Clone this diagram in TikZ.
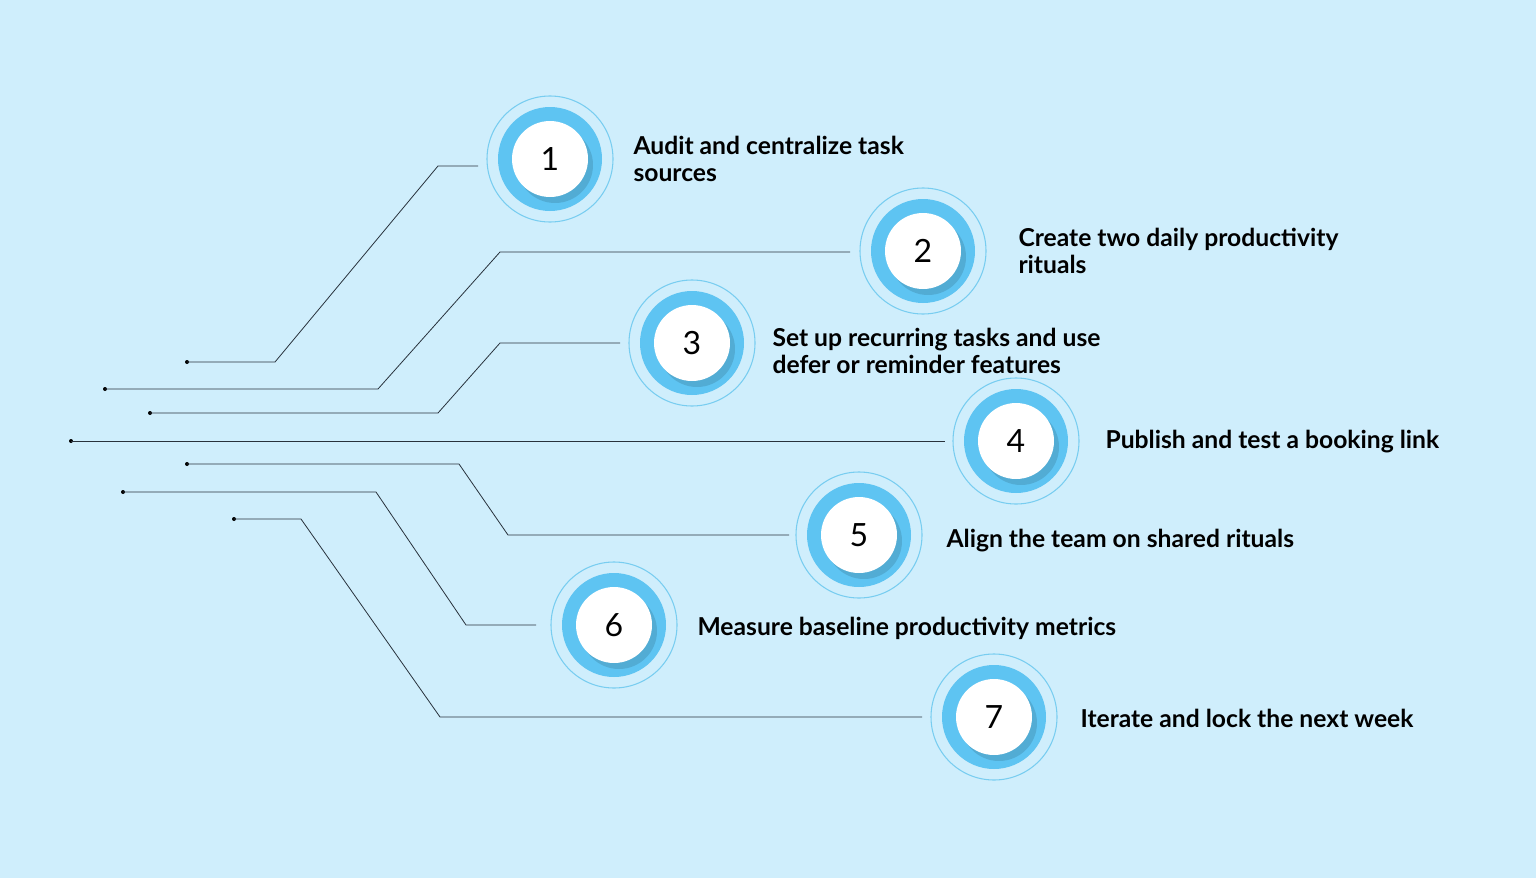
\documentclass[tikz,border=0pt]{standalone}
\usepackage{fontspec}
\setmainfont{Lato}
\usetikzlibrary{positioning,calc}
\definecolor{bgblue}{RGB}{207,238,252}
\definecolor{ringblue}{RGB}{94,196,242}
\definecolor{thinring}{RGB}{120,205,240}
\definecolor{wire}{RGB}{40,50,60}
\tikzset{every picture/.style={line width=0.75pt}}
\tikzset{
  outer/.style={circle, draw=thinring, line width=0.8pt, fill=bgblue, minimum size=94.5pt, inner sep=0pt},
  disk/.style={circle, fill=ringblue, minimum size=78pt, inner sep=0pt},
  face/.style={circle, fill=white, minimum size=57pt, inner sep=0pt, font=\fontsize{24}{28}\selectfont},
  label/.style={anchor=west, align=left, inner sep=0pt, font=\fontsize{18.5}{20}\selectfont\bfseries},
  wire/.style={draw=wire, line width=0.6pt},
  dot/.style={circle, fill=black, inner sep=0pt, minimum size=3pt}
}
\newcommand{\step}[6]{%
  \node[outer] (o#1) at (#2,#3) {};
  \node[disk] at (o#1) {};
  \fill[black, opacity=0.12] ($(o#1)+(5,6)$) circle (38);
  \node[face] (c#1) at (o#1) {#1};
  \node[label] (t#1) at ($(o#1)+(#4,#5)$) {#6};
}
\begin{document}
\begin{tikzpicture}[x=0.75pt,y=0.75pt,yscale=-1,xscale=1]
\fill[bgblue] (0,0) rectangle (1536,878);
\useasboundingbox (0,0) rectangle (1536,878);

% step circles
\step{1}{550}{159}{83}{0}{Audit and centralize task\\sources}
\step{2}{923}{251}{95}{0}{Create two daily productivity\\rituals}
\step{3}{692}{343}{80}{8}{Set up recurring tasks and use\\defer or reminder features}
\step{4}{1016}{441}{89}{1}{Publish and test a booking link}
\step{5}{859}{535}{87}{6}{Align the team on shared rituals}
\step{6}{614}{625}{83}{3}{Measure baseline productivity metrics}
\step{7}{994}{717}{86}{1}{Iterate and lock the next week}

% wire start points
\node[dot] (d1) at (187,362) {};
\node[dot] (d2) at (105,389) {};
\node[dot] (d3) at (150,413) {};
\node[dot] (d4) at (71,441) {};
\node[dot] (d5) at (187,464) {};
\node[dot] (d6) at (123,492) {};
\node[dot] (d7) at (234,519) {};

% wire ends
\coordinate (e1) at (478,166);
\coordinate (e2) at (850,252);
\coordinate (e3) at (620,343);
\coordinate (e4) at (945,441);
\coordinate (e5) at (789,535);
\coordinate (e6) at (536,625);
\coordinate (e7) at (922,717);

% wires
\draw[wire] (d1.center) -- (275,362) -- (438,166) -- (e1);
\draw[wire] (d2.center) -- (378,389) -- (500,252) -- (e2);
\draw[wire] (d3.center) -- (438,413) -- (500,343) -- (e3);
\draw[wire] (d4.center) -- (e4);
\draw[wire] (d5.center) -- (459,464) -- (508,535) -- (e5);
\draw[wire] (d6.center) -- (376,492) -- (466,625) -- (e6);
\draw[wire] (d7.center) -- (301,519) -- (440,717) -- (e7);
\end{tikzpicture}
\end{document}
